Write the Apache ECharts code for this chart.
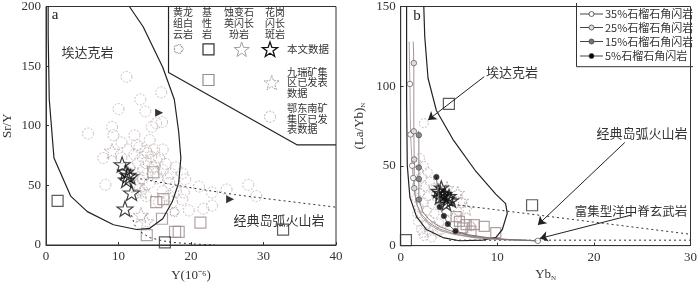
<!DOCTYPE html>
<html><head><meta charset="utf-8">
<script src="https://cdn.jsdelivr.net/npm/echarts@6/dist/echarts.min.js"></script>
<style>html,body{margin:0;padding:0;background:#fff}#c{width:700px;height:287px}</style>
</head><body><div id="c"></div>
<script>
// ---------- Panel a: Sr/Y vs Y ----------
const aXTicks = [0, 10, 20, 30, 40];
const aYTicks = [0, 50, 100, 150, 200];
const aAdakiteField = [[11.5,200],[13.4,183],[16.1,149],[17.7,122],[18.3,95],[18.6,73],[18.3,52],[17.4,36],[16.1,22],[14.3,14],[12.5,13],[9.3,17],[5.7,28],[3.4,41],[1.1,73],[0.45,122],[0.3,176],[0.3,200]];
const aUpperBoundary = [[16.9,200],[16.9,144.6],[34.6,84],[40,84]];
const aDottedUpper = [[13,55.5],[20,48],[26,42.3],[31,38.4],[40,31.7]];
const aDottedLower = [[11.8,25],[12.2,17],[12.9,11.5],[14.3,6.2],[16.1,3.5],[17.4,2.2],[20.6,0.8],[23.3,0]];
const aArrowMarks = [[15.6,111],[25.4,38.4]];
const aThisStudy = [[10.5,67.5],[11.0,61.3],[11.3,58.6],[11.6,57.3],[11.1,54.6],[11.8,43.8],[10.9,30.4]];
const aAlteredPorphyrite = [[9.1,78.8],[13.1,25],[13.8,19.6],[12.5,50],[13.2,45]];
const aMafic = [[1.6,37],[16.4,2.2],[32.7,12.9]];
const aJiurui = [[14.8,61],[15.2,36],[16.2,38.5],[16.0,22],[17.8,11],[18.3,11],[21.3,18.8],[13.9,8.3]];
const aDolomite = [[17.7,27.7]];
const aEdongnan = [[11.1,141],[15.9,128],[13.0,122],[10.0,114],[13.7,112],[15.2,102],[16.0,103],[14.6,99],[9.1,99],[5.8,93.5],[9.3,92],[12.2,92],[10.4,86],[14.3,88],[7.9,73],[12.9,82],[13.8,79],[14.9,80],[12.2,76],[13.3,74],[14.5,74],[15.6,73],[12.7,69],[13.8,69],[15.2,71],[16.5,68],[17.9,65],[11.5,65],[18.8,60],[19.2,55],[8.2,50.5],[21.1,49],[22.9,44],[24.9,46.5],[27.9,50.5],[29.0,41],[21.7,30.4],[22.9,33],[17.0,52],[17.9,45],[19.0,44],[17.4,36],[18.8,38],[16.1,45],[15.4,56],[13.4,56],[14.3,52],[12.9,46.5],[13.8,41],[12.2,60],[16.1,63],[17.2,60],[14.7,65],[13.4,63],[12.5,84],[11.3,80],[15.2,60],[17.0,41],[15.6,36],[19.7,29],[16.1,80],[10.4,73],[14.0,77],[15.0,66],[16.8,56],[14.0,60]];

// ---------- Panel b: (La/Yb)N vs YbN ----------
const bXTicks = [0, 10, 20, 30];
const bYTicks = [0, 50, 100, 150];
const bAdakiteField = [[2.39,150],[2.49,131],[2.83,105],[3.69,84.8],[5.4,66.7],[7.79,46.5],[9.84,32.3],[10.86,26.3],[11.03,20.2],[10.52,10.1],[9.84,5.05],[8.47,3.4],[6.08,3.03],[4.37,5.05],[2.66,10.1],[1.64,18.2],[0.95,30.3],[0.68,50.5],[0.61,90.9],[0.61,150]];
const bDottedUpper = [[5.4,25.9],[30,7.1]];
const bDottedLower = [[5.0,3.4],[30,3.4]];
const bCurve35 = [[0.88,128],[0.95,101.4],[1.02,69.7],[1.19,50.1],[1.3,42.4],[1.45,33],[1.7,25],[2.2,18],[3,13],[4,9.5],[5.5,7],[7.5,5],[10,3.8],[14.2,3.0]];
const bCurve25 = [[1.3,128],[1.36,114.5],[1.36,71.7],[1.40,54],[1.40,36],[1.6,27],[2.1,20],[3,14],[4,10.5],[5.5,7.5],[7.5,5.2],[10,3.9],[14.2,3.0]];
const bCurve15 = [[1.85,72],[1.88,69.3],[1.88,49],[1.88,41.8],[1.88,28.9],[2.3,21],[3,16],[4,12],[5.5,8.5],[7.5,5.8],[10,4.2],[14.2,3.0]];
const bCurve5 = [[3.69,43],[4.03,24.2],[4.47,18.6],[4.88,13.5],[5.67,9.1],[7,6.8],[9,5],[11,3.8],[14.2,3.0]];
const bMarks35 = [[0.95,101.4],[1.02,69.7],[1.19,50.1],[1.3,42.4],[14.2,3.0]];
const bMarks25 = [[1.36,114.5],[1.36,71.7],[1.40,54],[1.40,36]];
const bMarks15 = [[1.88,69.3],[1.88,49],[1.88,41.8],[1.88,28.9]];
const bMarks5 = [[3.69,43],[4.03,24.2],[4.47,18.6],[4.88,13.5],[5.67,9.1]];
const bThisStudy = [[3.86,34.3],[4.37,31.3],[4.88,29.3],[4.03,30.3],[4.72,26.2],[5.23,28.3],[4.2,36.4],[4.54,32.3],[4.1,33],[5.0,31]];
const bAlteredPorphyrite = [[5.9,33],[6.8,23],[5.5,18],[4.8,36],[6.3,28]];
const bMafic = [[0.54,3.4],[4.99,88.9],[13.6,25.3]];
const bJiurui = [[6.08,15.2],[6.77,13.1],[7.62,13.1],[8.65,12.1],[9.84,8.1],[7.28,9.1],[6.42,11.1],[5.74,18.2]];
const bDolomite = [[7.28,12.1]];
const bEdongnan = [[2.39,76.8],[1.6,52],[2.0,55],[2.4,50],[1.8,47],[2.8,46],[2.2,43],[3.0,40],[1.7,38],[2.5,37],[3.4,36],[2.0,33],[2.8,31],[1.6,30],[2.4,27],[3.2,26],[1.9,24],[2.7,22],[3.5,20],[2.2,18],[3.0,16],[1.8,15],[2.6,13],[3.4,12],[2.1,10],[2.9,9],[3.8,8],[2.4,6],[3.2,5],[4.2,10],[4.0,14],[1.7,20],[2.3,8]];
const bArrows = [[[8.65,106],[2.83,78.8]],[[23.2,64.7],[14.2,13]],[[23.9,19.2],[14.4,4.5]]];

// ---------- helpers (symbol shapes / styles) ----------
function starPath(n, inner) {
  let d = '';
  for (let i = 0; i < 2 * n; i++) {
    const r = i % 2 === 0 ? 50 : 50 * inner;
    const a = -Math.PI / 2 + i * Math.PI / n;
    d += (i === 0 ? 'M' : 'L') + (50 + r * Math.cos(a)).toFixed(2) + ' ' + (50 + r * Math.sin(a)).toFixed(2) + ' ';
  }
  return 'path://' + d + 'Z';
}
const STAR = starPath(5, 0.4);
const SUN = starPath(12, 0.72);
const FONT = "'Liberation Serif','Noto Sans CJK SC',serif";
const CJK = "'Noto Sans CJK SC','Liberation Serif',sans-serif";
const TXT = '#333';
const LIGHT = '#bcaeae';
const BROWN = '#9e8c8c';
const CLEAR = 'rgba(0,0,0,0)';

function axisCommon(min, max, interval, gi, extra) {
  return Object.assign({
    gridIndex: gi, min: min, max: max, interval: interval,
    axisLine: { lineStyle: { color: '#333', width: 1 } },
    axisTick: { inside: true, length: 3, lineStyle: { color: '#333' } },
    splitLine: { show: false },
    axisLabel: { color: TXT, fontFamily: FONT, fontSize: 13 },
    nameLocation: 'middle',
    nameTextStyle: { color: TXT, fontFamily: FONT, fontSize: 13 }
  }, extra);
}
function lineS(data, gi, style, z) {
  return { type: 'line', xAxisIndex: gi, yAxisIndex: gi, data: data, symbol: 'none', silent: true, z: z || 3,
    lineStyle: style, animation: false };
}
function scat(data, gi, symbol, size, item, z, rot) {
  return { type: 'scatter', xAxisIndex: gi, yAxisIndex: gi, data: data, symbol: symbol, symbolSize: size,
    symbolKeepAspect: true, symbolRotate: rot || 0, itemStyle: item, z: z || 4, animation: false, silent: true };
}
const circleStyle = { color: CLEAR, borderColor: LIGHT, borderWidth: 1, borderType: [2, 1.5] };
const jiuruiSq = { color: CLEAR, borderColor: BROWN, borderWidth: 1.2 };
const maficSq = { color: CLEAR, borderColor: '#333', borderWidth: 1.2 };
const lightStar = { color: CLEAR, borderColor: '#ad9c9c', borderWidth: 1, borderType: [2, 1] };
const blackStar = { color: CLEAR, borderColor: '#111', borderWidth: 1.2 };
const sunStyle = { color: CLEAR, borderColor: '#a09090', borderWidth: 1, borderType: [1.5, 1] };
const markStyle = (fill) => ({ color: fill, borderColor: '#444', borderWidth: 0.8 });

const chart = echarts.init(document.getElementById('c'), null, { renderer: 'canvas' });

const series = [
  // panel a
  scat(aEdongnan, 0, 'circle', 11, circleStyle, 2),
  scat(aDolomite, 0, SUN, 10, sunStyle, 3),
  scat(aJiurui, 0, 'rect', 11, jiuruiSq, 3),
  scat(aMafic, 0, 'rect', 11, maficSq, 3),
  scat(aAlteredPorphyrite, 0, STAR, 16, lightStar, 4),
  scat(aThisStudy, 0, STAR, 16, blackStar, 5),
  lineS(aAdakiteField, 0, { color: '#222', width: 1.2 }, 6),
  lineS(aUpperBoundary, 0, { color: '#222', width: 1.2 }, 6),
  lineS(aDottedUpper, 0, { color: '#333', width: 1, type: [2, 3] }, 6),
  lineS(aDottedLower, 0, { color: '#333', width: 1, type: [2, 3] }, 6),
  scat(aArrowMarks, 0, 'triangle', 8, { color: '#000' }, 7, -90),
  // panel b
  scat(bEdongnan, 1, 'circle', 9, circleStyle, 2),
  scat(bJiurui, 1, 'rect', 10, jiuruiSq, 3),
  scat(bDolomite, 1, SUN, 10, sunStyle, 3),
  scat(bMafic, 1, 'rect', 11, maficSq, 3),
  scat(bAlteredPorphyrite, 1, STAR, 14, lightStar, 4),
  scat(bThisStudy, 1, STAR, 14, { color: CLEAR, borderColor: '#111', borderWidth: 1.3 }, 5),
  lineS(bAdakiteField, 1, { color: '#222', width: 1.2 }, 6),
  lineS(bDottedUpper, 1, { color: '#333', width: 1, type: [2, 3] }, 6),
  lineS(bDottedLower, 1, { color: '#333', width: 1, type: [2, 3] }, 6),
  lineS(bCurve35, 1, { color: '#b3a3a3', width: 1 }, 6),
  lineS(bCurve25, 1, { color: '#a39393', width: 1 }, 6),
  lineS(bCurve15, 1, { color: '#8f8080', width: 1 }, 6),
  lineS(bCurve5, 1, { color: '#7d7070', width: 1 }, 6),
  scat(bMarks35, 1, 'circle', 5.5, markStyle('#fff'), 8),
  scat(bMarks25, 1, 'circle', 5.5, markStyle('#ddd'), 8),
  scat(bMarks15, 1, 'circle', 5.5, markStyle('#777'), 8),
  scat(bMarks5, 1, 'circle', 5.5, markStyle('#000'), 8),
  { type: 'lines', coordinateSystem: 'cartesian2d', xAxisIndex: 1, yAxisIndex: 1, symbol: ['none', 'arrow'], symbolSize: [0, 8],
    lineStyle: { color: '#222', width: 1, opacity: 1 }, data: bArrows.map(c => ({ coords: c })), z: 9, silent: true, animation: false }
];

const t = (x, y, text, size, align, lh) => ({
  type: 'text', x: x, y: y, silent: true, z: 100,
  style: { text: text, fill: TXT, font: (size) + 'px ' + CJK, align: align || 'center', verticalAlign: 'middle', lineHeight: lh || 10.6 }
});
function starPoly(cx, cy, R, inner) {
  const pts = [];
  for (let i = 0; i < 10; i++) {
    const r = i % 2 === 0 ? R : R * inner;
    const a = -Math.PI / 2 + i * Math.PI / 5;
    pts.push([cx + r * Math.cos(a), cy + r * Math.sin(a)]);
  }
  return pts;
}
function sunPoly(cx, cy, R) {
  const pts = [];
  for (let i = 0; i < 24; i++) {
    const r = i % 2 === 0 ? R : R * 0.72;
    const a = -Math.PI / 2 + i * Math.PI / 12;
    pts.push([cx + r * Math.cos(a), cy + r * Math.sin(a)]);
  }
  return pts;
}
const graphics = [
  // panel letters
  { type: 'text', x: 55, y: 15, style: { text: 'a', font: '15px ' + FONT, fill: '#222', align: 'center', verticalAlign: 'middle' }, z: 100 },
  { type: 'text', x: 417, y: 16, style: { text: 'b', font: '15px ' + FONT, fill: '#222', align: 'center', verticalAlign: 'middle' }, z: 100 },
  // field labels
  t(87.5, 52, '埃达克岩', 13),
  t(279, 220, '经典岛弧火山岩', 13),
  t(512, 72, '埃达克岩', 13),
  t(642, 133, '经典岛弧火山岩', 13),
  t(631, 211, '富集型洋中脊玄武岩', 12.5),
  // legend a headers
  t(183, 23.3, '黄龙\n组白\n云岩', 10),
  t(207, 23.3, '基\n性\n岩', 10),
  t(239, 23.3, '蚀变石\n英闪长\n玢岩', 10),
  t(275, 23.3, '花岗\n闪长\n斑岩', 10),
  { type: 'polygon', shape: { points: sunPoly(178.5, 49, 5) }, style: { fill: 'none', stroke: '#a09090', lineWidth: 1, lineDash: [1.5, 1] }, z: 100 },
  { type: 'rect', shape: { x: 203, y: 43.8, width: 11, height: 11 }, style: { fill: 'none', stroke: '#333', lineWidth: 1.2 }, z: 100 },
  { type: 'polygon', shape: { points: starPoly(241.7, 50, 8, 0.4) }, style: { fill: 'none', stroke: '#ad9c9c', lineWidth: 1 }, z: 100 },
  { type: 'polygon', shape: { points: starPoly(270, 50, 8, 0.4) }, style: { fill: 'none', stroke: '#111', lineWidth: 1.3 }, z: 100 },
  t(287, 49.3, '本文数据', 10.5, 'left'),
  { type: 'rect', shape: { x: 203, y: 74.5, width: 11, height: 11 }, style: { fill: 'none', stroke: BROWN, lineWidth: 1.2 }, z: 100 },
  { type: 'polygon', shape: { points: starPoly(271.7, 83.3, 8, 0.4) }, style: { fill: 'none', stroke: '#ad9c9c', lineWidth: 1, lineDash: [2, 1] }, z: 100 },
  t(287, 82.5, '九瑞矿集\n区已发表\n数据', 10.2, 'left'),
  { type: 'circle', shape: { cx: 270, cy: 116.7, r: 5.5 }, style: { fill: 'none', stroke: LIGHT, lineWidth: 1, lineDash: [2, 1.5] }, z: 100 },
  t(287, 119, '鄂东南矿\n集区已发\n表数据', 10.2, 'left'),
  // legend b box
  { type: 'polyline', shape: { points: [[576.5, 3], [576.5, 66.7], [693, 66.7]] }, style: { stroke: '#333', lineWidth: 1, fill: 'none' }, z: 100 }
];
const legB = [['35%石榴石角闪岩', '#fff'], ['25%石榴石角闪岩', '#ddd'], ['15%石榴石角闪岩', '#777'], ['5%石榴石角闪岩', '#000']];
const legY = [14, 27.5, 41.5, 56];
legB.forEach((e, i) => {
  graphics.push({ type: 'line', shape: { x1: 580, y1: legY[i], x2: 603, y2: legY[i] }, style: { stroke: '#444', lineWidth: 1 }, z: 100 });
  graphics.push({ type: 'circle', shape: { cx: 591.5, cy: legY[i], r: 2.5 }, style: { fill: e[1], stroke: '#444', lineWidth: 0.8 }, z: 101 });
  graphics.push({ type: 'text', x: 605, y: legY[i], style: { text: e[0], font: '11px ' + CJK, fill: TXT, align: 'left', verticalAlign: 'middle' }, z: 100 });
});

chart.setOption({
  animation: false,
  backgroundColor: '#fff',
  grid: [
    { left: 41.7, top: 2.7, width: 294.3, height: 248.3, show: true, borderColor: '#333', borderWidth: 1, backgroundColor: CLEAR },
    { left: 400.7, top: 2.7, width: 292.6, height: 247.3, show: true, borderColor: '#333', borderWidth: 1, backgroundColor: CLEAR }
  ],
  xAxis: [
    axisCommon(aXTicks[0], aXTicks[aXTicks.length - 1], aXTicks[1] - aXTicks[0], 0, { type: 'value', name: 'Y(10⁻⁶)', nameGap: 24, axisLabel: { color: TXT, fontFamily: FONT, fontSize: 13, margin: 5 } }),
    axisCommon(bXTicks[0], bXTicks[bXTicks.length - 1], bXTicks[1] - bXTicks[0], 1, { type: 'value', name: '{m|Yb}{s|N}', nameGap: 20, axisLabel: { color: TXT, fontFamily: FONT, fontSize: 13, margin: 5 },
      nameTextStyle: { rich: { m: { fontFamily: FONT, fontSize: 13, color: TXT, lineHeight: 14 }, s: { fontFamily: FONT, fontSize: 7, color: TXT, lineHeight: 7, verticalAlign: 'bottom' } } } })
  ],
  yAxis: [
    axisCommon(aYTicks[0], aYTicks[aYTicks.length - 1], aYTicks[1] - aYTicks[0], 0, { type: 'value', name: 'Sr/Y', nameGap: 32, axisLabel: { color: TXT, fontFamily: FONT, fontSize: 13, margin: 5 } }),
    axisCommon(bYTicks[0], bYTicks[bYTicks.length - 1], bYTicks[1] - bYTicks[0], 1, { type: 'value', name: '{m|(La/Yb)}{s|N}', nameGap: 34, axisLabel: { color: TXT, fontFamily: FONT, fontSize: 13, margin: 5 },
      nameTextStyle: { rich: { m: { fontFamily: FONT, fontSize: 13, color: TXT, lineHeight: 14 }, s: { fontFamily: FONT, fontSize: 7, color: TXT, lineHeight: 7, verticalAlign: 'bottom' } } } })
  ],
  series: series,
  graphic: graphics
});
</script></body></html>
